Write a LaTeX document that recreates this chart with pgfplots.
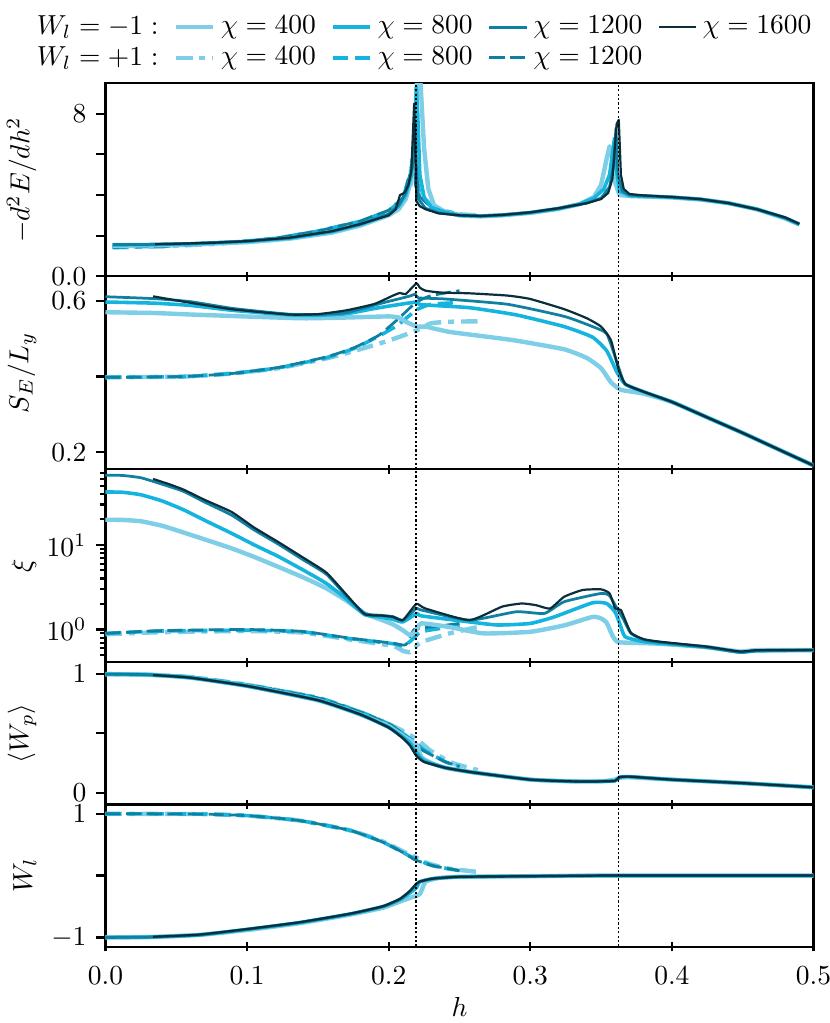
\documentclass[border=0pt]{standalone}
\usepackage{pgfplots}
\pgfplotsset{compat=1.18}
\definecolor{c400}{RGB}{125,206,230}
\definecolor{c800}{RGB}{20,180,222}
\definecolor{c1200}{RGB}{16,128,160}
\definecolor{c1600}{RGB}{10,46,60}
\tikzset{
  s400/.style={c400, line width=1.6pt, line join=round},
  s800/.style={c800, line width=1.3pt, line join=round},
  s1200/.style={c1200, line width=1.0pt, line join=round},
  s1600/.style={c1600, line width=0.8pt, line join=round},
  d400/.style={c400, line width=1.6pt, dash pattern=on 6pt off 2.5pt on 2.2pt off 2.5pt},
  d800/.style={c800, line width=1.3pt, dash pattern=on 5.5pt off 2.4pt},
  d1200/.style={c1200, line width=1.0pt, dash pattern=on 5.5pt off 2pt},
  vline/.style={black, line width=0.4pt, dash pattern=on 0.8pt off 0.8pt},
}
\pgfplotsset{
  panel/.style={
    scale only axis, width=257.45pt,
    xmin=0, xmax=0.5, xtick={0,0.1,0.2,0.3,0.4,0.5},
    tick pos=left, tick align=outside,
    major tick length=3.4pt, minor tick length=2pt,
    axis line style={line width=0.8pt},
    tick style={line width=0.8pt, black},
    x tick style={yshift=1.7pt},
    every axis y label/.style={at={(axis description cs:-0.097,0.5)}, rotate=90, anchor=south, inner sep=0pt},
    clip=true,
  },
  noxlab/.style={xticklabels={}},
  sm/.style={every axis plot/.append style={smooth, tension=0.3}},
}
\begin{document}
\begin{tikzpicture}
\useasboundingbox (0,0) rectangle (301.82pt,372pt);
% ---------------- Panel 1
\begin{axis}[panel, noxlab, at={(38.36pt,271.53pt)}, anchor=south west, height=70.18pt,
  ymin=0, ymax=9.5, ytick={0,2,4,6,8}, yticklabels={0.0,,,,8},
  ylabel={$-d^2E/dh^2$},
  legend columns=5,
  legend style={draw=none, fill=none, at={(axis description cs:-0.117,1.41)}, anchor=north west,
    /tikz/every even column/.append style={column sep=3.6pt}, row sep=-1.2pt},
  legend image code/.code={\draw[#1] (0pt,0pt) -- (13.5pt,0pt);},
]
\addlegendimage{empty legend}\addlegendentry{$W_l=-1:$}
\addlegendimage{s400}\addlegendentry{$\chi=400$}
\addlegendimage{s800}\addlegendentry{$\chi=800$}
\addlegendimage{s1200}\addlegendentry{$\chi=1200$}
\addlegendimage{s1600}\addlegendentry{$\chi=1600$}
\addlegendimage{empty legend}\addlegendentry{$W_l=+1:$}
\addlegendimage{d400}\addlegendentry{$\chi=400$}
\addlegendimage{d800}\addlegendentry{$\chi=800$}
\addlegendimage{d1200}\addlegendentry{$\chi=1200$}
\addplot[d400, forget plot] coordinates {(0.005,1.42)(0.04,1.47)(0.08,1.6)(0.12,1.85)(0.15,2.2)(0.18,2.68)(0.2,3.2)(0.21,3.7)(0.215,4.4)(0.218,5.2)(0.2205,4.6)(0.223,4.0)(0.23,3.5)(0.24,3.2)(0.25,3.05)(0.263,3.0)};
\addplot[d800, forget plot] coordinates {(0.005,1.43)(0.04,1.48)(0.08,1.61)(0.12,1.86)(0.15,2.22)(0.18,2.7)(0.2,3.22)(0.21,3.8)(0.216,5.3)(0.218,6.6)(0.2195,5.0)(0.222,4.0)(0.23,3.45)(0.24,3.2)(0.25,3.05)};
\addplot[d1200, forget plot] coordinates {(0.005,1.43)(0.04,1.48)(0.08,1.61)(0.12,1.87)(0.15,2.23)(0.18,2.72)(0.2,3.25)(0.21,3.85)(0.215,5.0)(0.2178,6.2)(0.2188,4.5)(0.222,3.9)(0.23,3.4)(0.24,3.15)(0.25,3.05)};
\addplot[s400, forget plot] coordinates {(0.005,1.5)(0.03,1.52)(0.06,1.57)(0.1,1.68)(0.13,1.85)(0.16,2.15)(0.18,2.5)(0.2,3.0)(0.207,3.3)(0.212,3.8)(0.215,4.5)(0.218,6.0)(0.2205,10.5)(0.2225,9.5)(0.225,6.3)(0.228,4.3)(0.232,3.5)(0.24,3.15)(0.25,3.0)(0.265,2.95)(0.28,3.0)(0.3,3.12)(0.32,3.32)(0.335,3.55)(0.345,3.9)(0.35,4.5)(0.354,5.8)(0.356,6.4)(0.358,5.8)(0.36,4.6)(0.363,4.0)(0.37,3.95)(0.4,3.88)(0.42,3.78)(0.44,3.6)(0.46,3.3)(0.48,2.85)(0.49,2.55)};
\addplot[s800, forget plot] coordinates {(0.005,1.55)(0.03,1.56)(0.06,1.6)(0.1,1.72)(0.13,1.88)(0.16,2.2)(0.18,2.55)(0.2,3.05)(0.207,3.45)(0.212,4.0)(0.216,5.0)(0.2185,7.0)(0.2195,9.3)(0.2205,8.0)(0.222,5.0)(0.225,3.9)(0.23,3.4)(0.24,3.15)(0.25,3.0)(0.265,2.96)(0.28,3.01)(0.3,3.13)(0.32,3.33)(0.335,3.56)(0.345,3.85)(0.352,4.3)(0.356,5.0)(0.3595,6.8)(0.361,5.2)(0.363,4.2)(0.37,3.97)(0.4,3.89)(0.42,3.79)(0.44,3.6)(0.46,3.3)(0.48,2.87)(0.49,2.56)};
\addplot[s1200, forget plot] coordinates {(0.005,1.56)(0.03,1.57)(0.06,1.61)(0.1,1.73)(0.13,1.89)(0.16,2.22)(0.18,2.57)(0.2,3.05)(0.207,3.5)(0.212,4.1)(0.215,4.8)(0.217,5.5)(0.2188,7.6)(0.2195,5.5)(0.221,3.8)(0.226,3.35)(0.235,3.12)(0.25,3.0)(0.265,2.97)(0.28,3.02)(0.3,3.14)(0.32,3.34)(0.34,3.6)(0.35,3.85)(0.356,4.4)(0.359,5.5)(0.3605,7.3)(0.362,5.0)(0.365,4.2)(0.37,4.0)(0.4,3.9)(0.42,3.8)(0.44,3.6)(0.46,3.3)(0.48,2.87)(0.49,2.57)};
\addplot[s1600, forget plot] coordinates {(0.035,1.58)(0.05,1.6)(0.08,1.66)(0.1,1.73)(0.13,1.9)(0.16,2.22)(0.18,2.57)(0.2,3.0)(0.205,3.3)(0.208,4.0)(0.211,4.1)(0.214,4.5)(0.216,5.2)(0.218,8.5)(0.2192,5.0)(0.2195,3.7)(0.222,3.45)(0.226,3.3)(0.235,3.1)(0.25,3.0)(0.265,2.97)(0.28,3.02)(0.29,3.08)(0.3,3.15)(0.32,3.35)(0.34,3.6)(0.35,3.8)(0.355,4.1)(0.358,4.8)(0.361,7.5)(0.3625,7.7)(0.364,5.0)(0.366,4.3)(0.37,4.05)(0.38,3.98)(0.4,3.9)(0.42,3.8)(0.44,3.6)(0.46,3.3)(0.48,2.9)(0.49,2.58)};
\draw[vline] (rel axis cs:0.4386,0) -- (rel axis cs:0.4386,1);
\draw[vline] (rel axis cs:0.724,0) -- (rel axis cs:0.724,1);
\end{axis}
% ---------------- Panel 2
\begin{axis}[panel, noxlab, sm, at={(38.36pt,201.35pt)}, anchor=south west, height=70.18pt,
  ymin=0.155, ymax=0.665, ytick={0.2,0.4,0.6}, yticklabels={0.2,,0.6},
  ylabel={$S_E/L_y$}]
\addplot[d400] coordinates {(0,0.398)(0.055,0.4)(0.089,0.408)(0.122,0.422)(0.156,0.448)(0.176,0.468)(0.2,0.495)(0.22,0.522)(0.23,0.541)(0.245,0.545)(0.263,0.546)};
\addplot[d800] coordinates {(0,0.398)(0.055,0.4)(0.089,0.408)(0.122,0.423)(0.156,0.45)(0.176,0.475)(0.193,0.507)(0.206,0.535)(0.22,0.577)(0.23,0.591)(0.247,0.595)};
\addplot[d1200] coordinates {(0,0.398)(0.055,0.4)(0.089,0.408)(0.122,0.424)(0.156,0.452)(0.176,0.477)(0.193,0.509)(0.206,0.55)(0.216,0.585)(0.22,0.598)(0.23,0.614)(0.25,0.627)};
\addplot[s400] coordinates {(0,0.57)(0.034,0.568)(0.06,0.564)(0.09,0.56)(0.139,0.554)(0.17,0.556)(0.2,0.559)(0.207,0.556)(0.212,0.545)(0.22,0.532)(0.226,0.532)(0.243,0.518)(0.27,0.505)(0.29,0.495)(0.324,0.472)(0.34,0.449)(0.35,0.422)(0.357,0.385)(0.364,0.365)(0.38,0.355)(0.4,0.333)(0.425,0.292)(0.45,0.251)(0.475,0.208)(0.5,0.165)};
\addplot[s800] coordinates {(0,0.597)(0.034,0.594)(0.06,0.588)(0.09,0.575)(0.13,0.563)(0.15,0.562)(0.17,0.566)(0.19,0.58)(0.21,0.592)(0.22,0.597)(0.223,0.59)(0.257,0.582)(0.29,0.563)(0.324,0.532)(0.344,0.504)(0.354,0.468)(0.361,0.413)(0.367,0.38)(0.38,0.36)(0.4,0.333)(0.425,0.292)(0.45,0.251)(0.475,0.208)(0.5,0.165)};
\addplot[s1200] coordinates {(0,0.611)(0.034,0.606)(0.06,0.598)(0.09,0.58)(0.129,0.565)(0.15,0.564)(0.17,0.569)(0.196,0.595)(0.21,0.608)(0.216,0.614)(0.219,0.618)(0.221,0.608)(0.24,0.605)(0.284,0.591)(0.324,0.559)(0.344,0.532)(0.354,0.513)(0.361,0.44)(0.367,0.38)(0.38,0.36)(0.4,0.333)(0.425,0.292)(0.45,0.251)(0.475,0.208)(0.5,0.165)};
\addplot[s1600] coordinates {(0.0336,0.612)(0.06,0.595)(0.089,0.578)(0.129,0.564)(0.15,0.565)(0.17,0.575)(0.19,0.592)(0.203,0.614)(0.208,0.621)(0.212,0.618)(0.2195,0.646)(0.222,0.635)(0.226,0.627)(0.237,0.622)(0.257,0.62)(0.284,0.614)(0.3,0.605)(0.324,0.578)(0.34,0.554)(0.35,0.532)(0.357,0.496)(0.362,0.423)(0.367,0.381)(0.38,0.36)(0.4,0.333)(0.425,0.292)(0.45,0.251)(0.475,0.208)(0.5,0.165)};
\draw[vline] (rel axis cs:0.4386,0) -- (rel axis cs:0.4386,1);
\draw[vline] (rel axis cs:0.724,0) -- (rel axis cs:0.724,1);
\end{axis}
% ---------------- Panel 3
\begin{axis}[panel, noxlab, sm, at={(38.36pt,131.16pt)}, anchor=south west, height=70.18pt,
  ymode=log, ymin=0.41, ymax=78, ytick={1,10},
  minor ytick={0.5,0.6,0.7,0.8,0.9,2,3,4,5,6,7,8,9,20,30,40,50,60,70},
  ylabel={$\xi$}]
\addplot[d400] coordinates {(0,0.88)(0.039,0.93)(0.1,0.96)(0.139,0.92)(0.173,0.76)(0.203,0.64)(0.21,0.56)(0.215,0.54)(0.218,0.6)(0.223,0.71)(0.243,0.9)(0.263,1.07)};
\addplot[d800] coordinates {(0,0.9)(0.039,0.96)(0.1,0.98)(0.139,0.94)(0.173,0.78)(0.203,0.68)(0.21,0.64)(0.215,0.72)(0.223,0.94)(0.243,1.07)(0.25,1.13)};
\addplot[d1200] coordinates {(0,0.9)(0.039,0.97)(0.1,1.0)(0.139,0.95)(0.173,0.79)(0.203,0.69)(0.212,0.66)(0.218,1.0)(0.23,1.07)(0.25,1.18)};
\addplot[s400] coordinates {(0,19.8)(0.012,19.7)(0.025,19.0)(0.04,16.8)(0.055,14.0)(0.07,11.6)(0.089,9.1)(0.105,7.2)(0.122,5.5)(0.14,4.1)(0.156,3.06)(0.17,2.2)(0.183,1.55)(0.195,1.3)(0.203,1.15)(0.21,0.98)(0.215,0.86)(0.219,0.95)(0.223,1.18)(0.243,1.07)(0.267,0.9)(0.3,0.94)(0.324,1.12)(0.344,1.41)(0.35,1.35)(0.354,1.2)(0.358,0.85)(0.362,0.71)(0.38,0.69)(0.391,0.68)(0.424,0.62)(0.448,0.55)(0.46,0.57)(0.5,0.57)};
\addplot[s800] coordinates {(0,42.1)(0.012,41.8)(0.025,39)(0.04,33)(0.055,26)(0.07,19.5)(0.089,13.7)(0.105,10)(0.122,7.3)(0.14,5.0)(0.156,3.5)(0.17,2.3)(0.183,1.5)(0.195,1.4)(0.203,1.32)(0.21,1.23)(0.22,1.55)(0.223,1.45)(0.257,1.23)(0.277,1.13)(0.3,1.18)(0.317,1.41)(0.344,2.07)(0.354,2.03)(0.36,1.6)(0.363,1.2)(0.367,0.82)(0.38,0.72)(0.391,0.69)(0.424,0.62)(0.448,0.54)(0.46,0.56)(0.5,0.57)};
\addplot[s1200] coordinates {(0,66.4)(0.012,66)(0.025,62)(0.04,52)(0.055,42.9)(0.07,32)(0.089,22.5)(0.105,15)(0.122,10.2)(0.14,6.6)(0.156,4.5)(0.17,2.5)(0.183,1.55)(0.195,1.47)(0.203,1.42)(0.21,1.29)(0.2195,1.77)(0.223,1.7)(0.257,1.29)(0.29,1.62)(0.31,1.55)(0.324,2.13)(0.35,2.67)(0.356,2.5)(0.362,1.69)(0.366,1.3)(0.371,0.9)(0.38,0.76)(0.391,0.71)(0.424,0.62)(0.448,0.54)(0.46,0.56)(0.5,0.57)};
\addplot[s1600] coordinates {(0.0336,60)(0.045,52)(0.055,45)(0.07,34)(0.089,24.5)(0.105,16)(0.122,10.8)(0.14,7.0)(0.156,4.7)(0.17,2.6)(0.183,1.52)(0.195,1.46)(0.203,1.41)(0.21,1.29)(0.2195,2.0)(0.226,1.77)(0.257,1.29)(0.28,1.86)(0.294,2.03)(0.304,1.94)(0.314,1.77)(0.324,2.44)(0.337,2.93)(0.35,2.98)(0.356,2.67)(0.36,1.77)(0.364,1.7)(0.371,0.92)(0.38,0.77)(0.391,0.72)(0.424,0.63)(0.448,0.55)(0.46,0.57)(0.5,0.575)};
\draw[vline] (rel axis cs:0.4386,0) -- (rel axis cs:0.4386,1);
\draw[vline] (rel axis cs:0.724,0) -- (rel axis cs:0.724,1);
\end{axis}
% ---------------- Panel 4
\begin{axis}[panel, noxlab, sm, at={(38.36pt,79.46pt)}, anchor=south west, height=51.71pt,
  ymin=-0.1, ymax=1.1, ytick={0,0.5,1}, yticklabels={$0$,,$1$},
  ylabel={$\langle W_p\rangle$}]
\addplot[d400] coordinates {(0,1)(0.03,0.995)(0.06,0.975)(0.1,0.91)(0.15,0.8)(0.18,0.68)(0.2,0.58)(0.21,0.52)(0.22,0.45)(0.23,0.35)(0.245,0.25)(0.263,0.19)};
\addplot[d800] coordinates {(0,1)(0.03,0.995)(0.06,0.975)(0.1,0.91)(0.15,0.8)(0.18,0.68)(0.2,0.58)(0.21,0.5)(0.219,0.42)(0.225,0.36)(0.24,0.26)(0.25,0.22)};
\addplot[d1200] coordinates {(0,1)(0.03,0.995)(0.06,0.975)(0.1,0.91)(0.15,0.8)(0.18,0.68)(0.2,0.58)(0.21,0.5)(0.218,0.41)(0.225,0.35)(0.24,0.26)(0.25,0.22)};
\addplot[s400] coordinates {(0,1)(0.03,0.995)(0.06,0.97)(0.1,0.9)(0.15,0.78)(0.18,0.66)(0.2,0.56)(0.21,0.48)(0.215,0.44)(0.22,0.4)(0.223,0.3)(0.23,0.25)(0.24,0.21)(0.26,0.17)(0.3,0.11)(0.33,0.095)(0.35,0.095)(0.36,0.11)(0.363,0.125)(0.37,0.13)(0.4,0.11)(0.45,0.08)(0.5,0.045)};
\addplot[s800] coordinates {(0,1)(0.03,0.995)(0.06,0.97)(0.1,0.9)(0.15,0.78)(0.18,0.66)(0.2,0.55)(0.21,0.47)(0.215,0.42)(0.2195,0.34)(0.225,0.27)(0.24,0.21)(0.26,0.17)(0.3,0.11)(0.33,0.095)(0.35,0.095)(0.36,0.1)(0.363,0.13)(0.37,0.135)(0.4,0.11)(0.45,0.08)(0.5,0.045)};
\addplot[s1200] coordinates {(0,1)(0.03,0.995)(0.06,0.97)(0.1,0.9)(0.15,0.78)(0.18,0.66)(0.2,0.55)(0.21,0.46)(0.215,0.4)(0.2195,0.32)(0.225,0.26)(0.24,0.21)(0.26,0.17)(0.3,0.11)(0.33,0.095)(0.35,0.095)(0.36,0.1)(0.363,0.13)(0.37,0.135)(0.4,0.11)(0.45,0.08)(0.5,0.045)};
\addplot[s1600] coordinates {(0.0336,0.992)(0.06,0.97)(0.1,0.9)(0.15,0.78)(0.18,0.66)(0.2,0.55)(0.21,0.46)(0.215,0.4)(0.2195,0.31)(0.225,0.26)(0.24,0.21)(0.26,0.17)(0.3,0.11)(0.33,0.095)(0.35,0.095)(0.36,0.1)(0.363,0.13)(0.37,0.135)(0.4,0.11)(0.45,0.08)(0.5,0.045)};
\draw[vline] (rel axis cs:0.4386,0) -- (rel axis cs:0.4386,1);
\draw[vline] (rel axis cs:0.724,0) -- (rel axis cs:0.724,1);
\end{axis}
% ---------------- Panel 5
\begin{axis}[panel, sm, at={(38.36pt,27.75pt)}, anchor=south west, height=51.71pt,
  ymin=-1.15, ymax=1.15, ytick={-1,0,1}, yticklabels={$-1$,,$1$},
  xticklabels={0.0,0.1,0.2,0.3,0.4,0.5},
  ylabel={$W_l$}, xlabel={$h$}, xlabel style={yshift=2.5pt}]
\addplot[d400] coordinates {(0,1)(0.066,0.995)(0.1,0.97)(0.137,0.89)(0.173,0.73)(0.196,0.55)(0.212,0.37)(0.219,0.3)(0.225,0.22)(0.24,0.12)(0.263,0.06)};
\addplot[d800] coordinates {(0,1)(0.066,0.995)(0.1,0.97)(0.137,0.89)(0.173,0.73)(0.196,0.54)(0.212,0.35)(0.219,0.27)(0.231,0.16)(0.25,0.08)};
\addplot[d1200] coordinates {(0,1)(0.066,0.995)(0.1,0.97)(0.137,0.89)(0.173,0.73)(0.196,0.54)(0.212,0.35)(0.218,0.26)(0.231,0.16)(0.25,0.08)};
\addplot[s400] coordinates {(0,-1)(0.03,-0.995)(0.066,-0.96)(0.1,-0.88)(0.137,-0.77)(0.173,-0.63)(0.196,-0.52)(0.208,-0.42)(0.215,-0.36)(0.222,-0.3)(0.226,-0.1)(0.235,-0.04)(0.25,-0.02)(0.3,-0.01)(0.35,0.0)(0.4,0.0)(0.5,0.0)};
\addplot[s800] coordinates {(0,-1)(0.03,-0.995)(0.066,-0.96)(0.1,-0.87)(0.137,-0.76)(0.173,-0.62)(0.196,-0.5)(0.208,-0.39)(0.215,-0.28)(0.2195,-0.2)(0.222,-0.1)(0.231,-0.05)(0.25,-0.02)(0.3,-0.01)(0.35,0.0)(0.4,0.0)(0.5,0.0)};
\addplot[s1200] coordinates {(0,-1)(0.03,-0.995)(0.066,-0.96)(0.1,-0.87)(0.137,-0.76)(0.173,-0.62)(0.196,-0.5)(0.208,-0.38)(0.215,-0.25)(0.2195,-0.14)(0.222,-0.1)(0.231,-0.05)(0.25,-0.02)(0.3,-0.01)(0.35,0.0)(0.4,0.0)(0.5,0.0)};
\addplot[s1600] coordinates {(0.0336,-0.99)(0.066,-0.955)(0.1,-0.865)(0.137,-0.755)(0.173,-0.615)(0.196,-0.495)(0.208,-0.375)(0.215,-0.25)(0.2195,-0.13)(0.222,-0.095)(0.231,-0.05)(0.25,-0.02)(0.3,-0.01)(0.35,0.0)(0.4,0.0)(0.5,0.0)};
\draw[vline] (rel axis cs:0.4386,0) -- (rel axis cs:0.4386,1);
\draw[vline] (rel axis cs:0.724,0) -- (rel axis cs:0.724,1);
\end{axis}
\end{tikzpicture}
\end{document}
